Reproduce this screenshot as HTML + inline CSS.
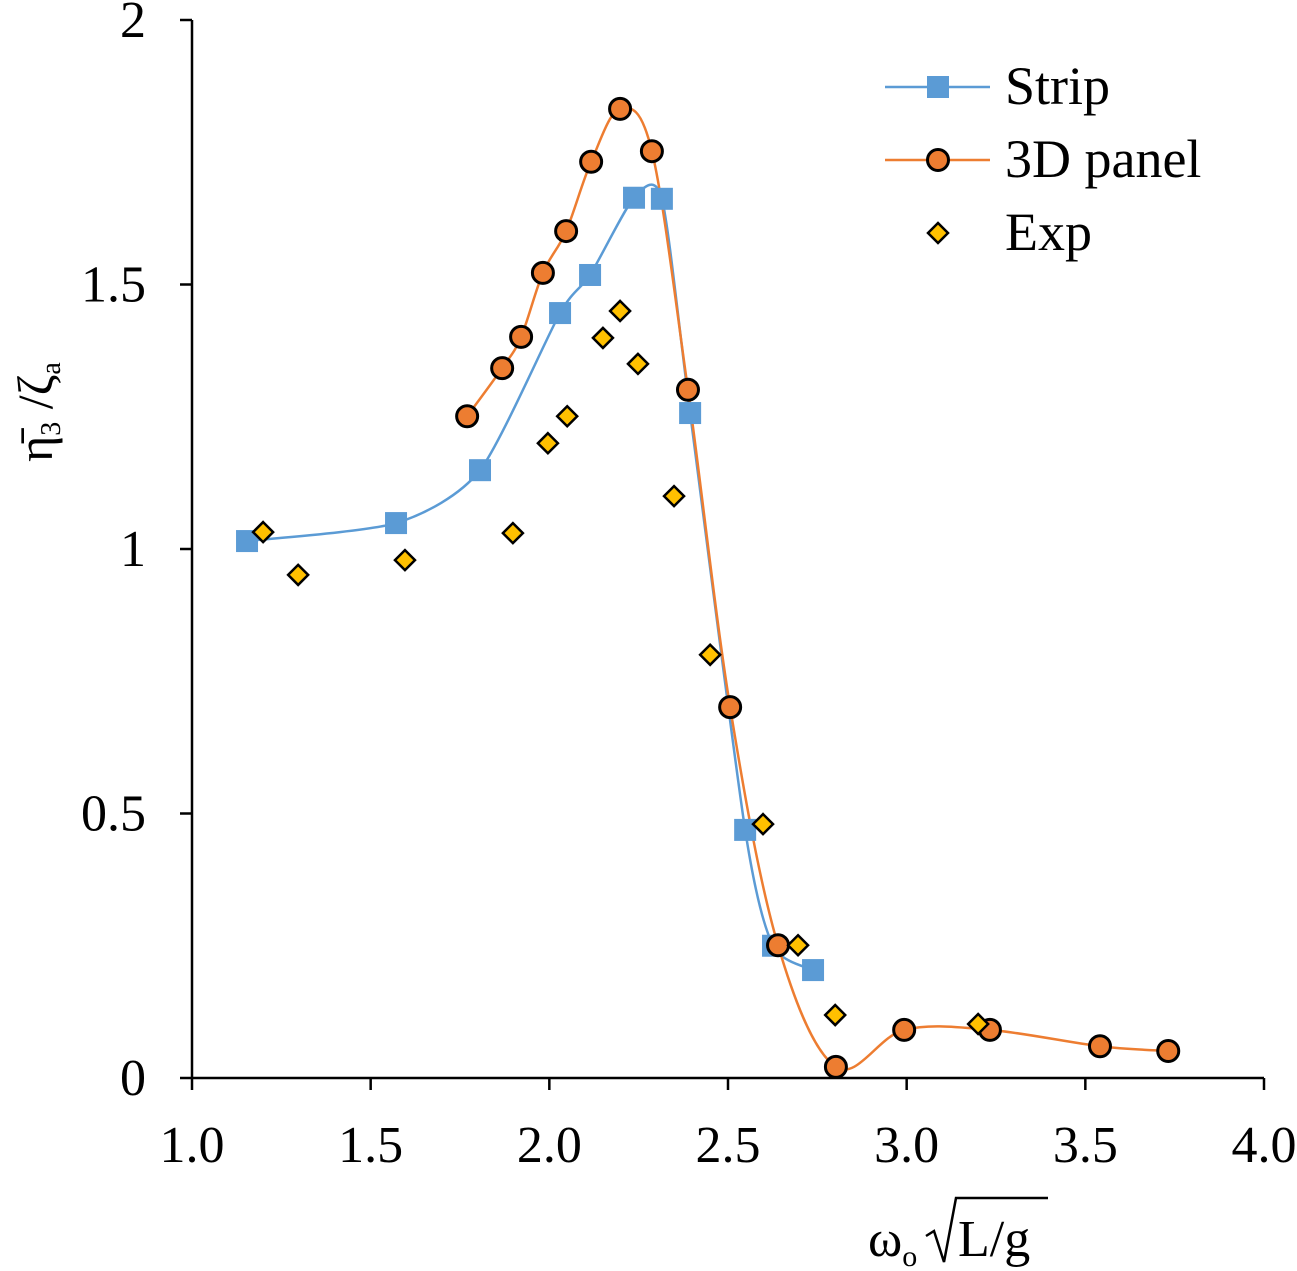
<!DOCTYPE html>
<html><head><meta charset="utf-8"><style>
body{margin:0;background:#fff}
svg{display:block;font-family:"Liberation Serif",serif}
</style></head><body>
<svg id="chart" width="1297" height="1271" viewBox="0 0 1297 1271" xmlns="http://www.w3.org/2000/svg">
<g id="axes"></g>
<g id="series"></g>
<g id="legend"></g>
<text transform="translate(52,412) rotate(-90)" font-size="50" text-anchor="middle">η̄<tspan font-size="28" dy="8">3</tspan><tspan dy="-8"> /ζ</tspan><tspan font-size="28" dy="8">a</tspan></text>
<g>
<text x="868" y="1256" font-size="52">ω<tspan font-size="30" dy="10">o</tspan></text>
<path d="M926 1236 L934 1231 L944 1262 L956 1198 L1048 1198" fill="none" stroke="#000" stroke-width="2.5"/>
<text x="958" y="1256" font-size="52">L/g</text>
</g>
</svg>
<script>
const xTicks=[1.0,1.5,2.0,2.5,3.0,3.5,4.0];
const xTickLabels=["1.0","1.5","2.0","2.5","3.0","3.5","4.0"];
const yTicks=[0,0.5,1,1.5,2];
const yTickLabels=["0","0.5","1","1.5","2"];
const stripX=[1.154,1.571,1.806,2.030,2.114,2.237,2.315,2.394,2.548,2.626,2.738];
const stripY=[1.015,1.049,1.149,1.446,1.518,1.664,1.662,1.257,0.469,0.250,0.204];
const panelX=[1.770,1.868,1.921,1.982,2.047,2.117,2.198,2.287,2.388,2.506,2.640,2.802,2.993,3.233,3.541,3.732];
const panelY=[1.251,1.342,1.401,1.522,1.601,1.732,1.832,1.752,1.301,0.701,0.251,0.021,0.091,0.091,0.060,0.051];
const expX=[1.199,1.297,1.596,1.898,1.996,2.050,2.150,2.198,2.248,2.349,2.450,2.598,2.696,2.800,3.200];
const expY=[1.032,0.951,0.979,1.030,1.200,1.251,1.399,1.450,1.350,1.100,0.800,0.480,0.251,0.119,0.102];

const NS="http://www.w3.org/2000/svg";
const X0=192,X1=1264,Y0=1078,Y1=20;
const sx=v=>X0+(v-1)/3*(X1-X0);
const sy=v=>Y0-v/2*(Y0-Y1);
function mk(tag,attrs,parent){const e=document.createElementNS(NS,tag);for(const k in attrs)e.setAttribute(k,attrs[k]);parent.appendChild(e);return e;}
const axes=document.getElementById('axes'),series=document.getElementById('series'),legend=document.getElementById('legend');
let e=mk('line',{x1:X0,y1:Y0,x2:X1,y2:Y0,stroke:'#000','stroke-width':2.5},axes);


e=mk('line',{x1:X0,y1:Y0,x2:X0,y2:Y1,stroke:'#000','stroke-width':2.5},axes);


xTicks.forEach((t,i)=>{
 mk('line',{x1:sx(t),y1:Y0,x2:sx(t),y2:Y0+12,stroke:'#000','stroke-width':2.5},axes);
 const tx=mk('text',{x:sx(t),y:1162,'font-size':52,'text-anchor':'middle'},axes);tx.textContent=xTickLabels[i];
 
 
});
yTicks.forEach((t,i)=>{
 mk('line',{x1:X0-12,y1:sy(t),x2:X0,y2:sy(t),stroke:'#000','stroke-width':2.5},axes);
 const tx=mk('text',{x:146,y:sy(t)+17,'font-size':52,'text-anchor':'end'},axes);tx.textContent=yTickLabels[i];
 
 
});
function spline(xs,ys,ten){
 const p=xs.map((x,i)=>[sx(x),sy(ys[i])]);
 let d=`M${p[0][0]},${p[0][1]}`;
 for(let i=0;i<p.length-1;i++){
  const p0=p[i-1]||p[i],p1=p[i],p2=p[i+1],p3=p[i+2]||p[i+1];
  const t=ten;
  const c1=[p1[0]+(p2[0]-p0[0])*t,p1[1]+(p2[1]-p0[1])*t];
  const c2=[p2[0]-(p3[0]-p1[0])*t,p2[1]-(p3[1]-p1[1])*t];
  d+=` C${c1[0]},${c1[1]} ${c2[0]},${c2[1]} ${p2[0]},${p2[1]}`;
 }
 return d;
}
e=mk('path',{d:spline(stripX,stripY,0.12),fill:'none',stroke:'#5b9bd5','stroke-width':2.5},series);


e=mk('path',{d:spline(panelX,panelY,0.1667),fill:'none',stroke:'#ed7d31','stroke-width':2.5},series);


function square(x,y,p){return mk('rect',{x:x-11,y:y-11,width:22,height:22,fill:'#5b9bd5'},p);}
function circle(x,y,p){return mk('circle',{cx:x,cy:y,r:10.5,fill:'#ed7d31',stroke:'#000','stroke-width':3},p);}
function diamond(x,y,p){return mk('path',{d:`M${x},${y-10} L${x+10},${y} L${x},${y+10} L${x-10},${y} Z`,fill:'#ffc000',stroke:'#000','stroke-width':2.5},p);}
stripX.forEach((x,i)=>{const m=square(sx(x),sy(stripY[i]),series);
 
 });
panelX.forEach((x,i)=>{const m=circle(sx(x),sy(panelY[i]),series);
 
 });
expX.forEach((x,i)=>{const m=diamond(sx(x),sy(expY[i]),series);
 
 });
// legend
mk('line',{x1:885,y1:87,x2:990,y2:87,stroke:'#5b9bd5','stroke-width':2.5},legend);
square(938,87,legend);
mk('line',{x1:885,y1:160,x2:990,y2:160,stroke:'#ed7d31','stroke-width':2.5},legend);
circle(938,160,legend);
diamond(938,233,legend);
[["Strip",87],["3D panel",160],["Exp",233]].forEach(([t,y])=>{
 const tx=mk('text',{x:1005,y:y+17,'font-size':54},legend);tx.textContent=t;
 
 
});
</script>
</body></html>
